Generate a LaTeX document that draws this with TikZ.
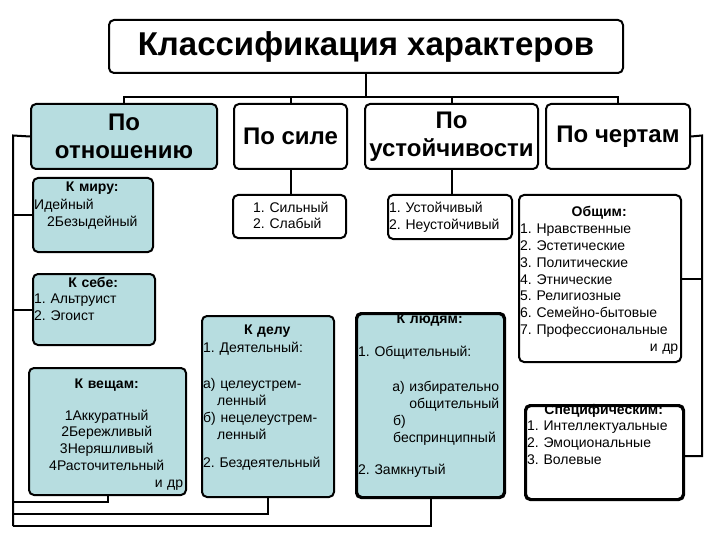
\documentclass[tikz,border=0pt]{standalone}
\usepackage{fontspec}
\setmainfont{Liberation Sans}
\frenchspacing
\definecolor{boxblue}{RGB}{183,221,224}
\newcommand\ctrline[1]{\makebox[\hsize]{#1}}
\newcommand\rtline[1]{\makebox[\hsize][r]{#1}}
\tikzset{
  boxline/.style={draw=black, line width=2pt, rounded corners=5pt},
  wbox/.style={boxline, fill=white, inner sep=0pt, anchor=north west},
  bbox/.style={wbox, fill=boxblue},
  conn/.style={line width=2pt},
  head/.style={font=\fontsize{24}{28}\selectfont\bfseries, align=center},
  txt/.style={font=\fontsize{14}{16.8}\selectfont\frenchspacing, inner sep=0pt, anchor=base west, align=left},
}
\begin{document}
\begin{tikzpicture}[x=1pt,y=-1pt]
\useasboundingbox (0,0) rectangle (720,540);
\fill[white] (0,0) rectangle (720,540);

% coordinates for connector ends
\coordinate (bus) at (0,97);
\coordinate (ltop) at (13,135.5);
\coordinate (b1) at (13,502);
\coordinate (b2) at (13,514);
\coordinate (b3) at (13,526);
\coordinate (rtop) at (702,135.5);
\coordinate (rbot) at (702,456);

% boxes
\node[wbox, minimum width=514pt, minimum height=53pt, font=\fontsize{33}{38}\selectfont\bfseries] (title) at (108,19) {Классификация характеров};
\node[bbox, head, minimum width=186pt, minimum height=65pt] (otn) at (30,103) {По\\отношению};
\node[wbox, head, minimum width=113pt, minimum height=65pt] (sila) at (233,103) {По силе};
\node[wbox, head, minimum width=173pt, minimum height=65pt] (ust) at (364,103) {По\\устойчивости};
\node[wbox, head, minimum width=144pt, minimum height=65pt] (chert) at (545,103) {По чертам};

\node[bbox, minimum width=120pt, minimum height=74pt] (kmiru) at (32,177) {};
\node[bbox, minimum width=122pt, minimum height=71pt] (ksebe) at (32,273) {};
\node[bbox, minimum width=157pt, minimum height=127pt] (kvesch) at (28,367) {};
\node[wbox, minimum width=113pt, minimum height=43pt] (silny) at (232,194) {};
\node[wbox, minimum width=124pt, minimum height=44pt] (ustv) at (387,194) {};
\node[wbox, minimum width=162pt, minimum height=167pt] (obsch) at (518,194) {};
\node[wbox, minimum width=157pt, minimum height=93pt] (spec) at (525,405) {};
\node[bbox, minimum width=132pt, minimum height=181pt] (kdelu) at (201,315) {};
\node[bbox, minimum width=147pt, minimum height=183pt] (kludyam) at (356,313) {};

% connectors
\draw[conn] (title.south) -- (title.south |- bus);
\draw[conn] (otn.north) -- (otn.north |- bus) -- (chert.north |- bus) -- (chert.north);
\draw[conn] (sila.north) -- (sila.north |- bus);
\draw[conn] (ust.north) -- (ust.north |- bus);
\draw[conn] (sila.south) -- (sila.south |- silny.north);
\draw[conn] (ust.south) -- (ust.south |- ustv.north);
\draw[conn] (otn.west) -- (ltop) -- (b3);
\draw[conn] (kmiru.west) -- (kmiru.west -| ltop);
\draw[conn] (ksebe.west) -- (ksebe.west -| ltop);
\draw[conn] (kvesch.south) -- (kvesch.south |- b1) -- (b1);
\draw[conn] (kdelu.south) -- (kdelu.south |- b2) -- (b2);
\draw[conn] (kludyam.south) -- (kludyam.south |- b3) -- (b3);
\draw[conn] (chert.east) -- (rtop) -- (rbot) -- (rbot -| spec.east);
\draw[conn] (obsch.east) -- (obsch.east -| rtop);

% texts
\node[txt, text width=116pt] (tmiru) at (34,192)
  {\ctrline{\bfseries К миру:}\\[0.7pt] Идейный\\ \hspace*{13pt}2Безыдейный};
\node[txt, text width=118pt] (tsebe) at (34,287)
  {\ctrline{\bfseries К себе:}\\ 1. Альтруист\\ 2. Эгоист};
\node[txt, text width=153pt] (tvesch) at (30,388)
  {\ctrline{\bfseries К вещам:}\\[15.3pt]
   \ctrline{1Аккуратный}\\ \ctrline{2Бережливый}\\ \ctrline{3Неряшливый}\\
   \ctrline{4Расточительный}\\ \rtline{и др}};
\node[txt, text width=90pt] (tsilny) at (253,212) {1. Сильный\\ 2. Слабый};
\node[txt, text width=120pt] (tustv) at (389,213) {1. Устойчивый\\ 2. Неустойчивый};
\node[txt, text width=158pt] (tobsch) at (520,217)
  {\ctrline{\bfseries Общим:}\\ 1. Нравственные\\ 2. Эстетические\\ 3. Политические\\
   4. Этнические\\ 5. Религиозные\\ 6. Семейно-бытовые\\ 7. Профессиональные\\ \rtline{и др}};
\node[txt, text width=153pt] (tspec) at (527,414)
  {\ctrline{\bfseries Специфическим:}\\ 1. Интеллектуальные\\ 2. Эмоциональные\\ 3. Волевые};
\node[txt, text width=128pt] (tdelu) at (203,334)
  {\ctrline{\bfseries К делу}\\[2pt] 1. Деятельный:\\[19pt]
   а) целеустрем-\\ \hspace*{14pt}ленный\\ б) нецелеустрем-\\ \hspace*{14pt}ленный\\[12pt]
   2. Бездеятельный};
\node[txt, text width=143pt] (tludyam) at (358,323)
  {\ctrline{\bfseries К людям:}\\[17pt] 1. Общительный:\\[18pt]
   \rtline{а) избирательно\hspace{2pt}}\\ \rtline{общительный\hspace{2pt}}\\
   \hspace*{35pt}б)\\ \hspace*{35pt}беспринципный\\[16pt] 2. Замкнутый};

% borders drawn over the clipped headings
\draw[boxline] (spec.south west) rectangle (spec.north east);
\draw[boxline] (kludyam.south west) rectangle (kludyam.north east);
\end{tikzpicture}
\end{document}
